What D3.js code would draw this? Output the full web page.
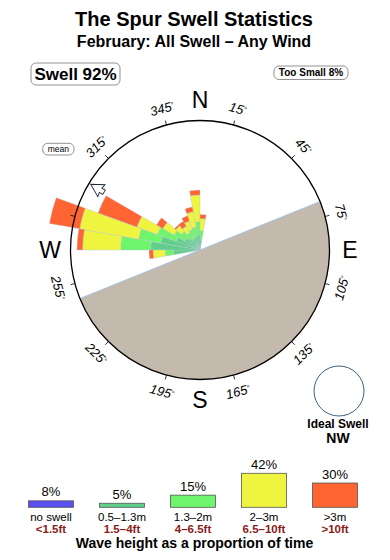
<!DOCTYPE html>
<html>
<head>
<meta charset="utf-8">
<script src="https://cdn.jsdelivr.net/npm/d3@7"></script>
<style>
  body { margin: 0; background: #fff; }
  svg { display: block; font-family: "Liberation Sans", Arial, Helvetica, sans-serif; }
</style>
</head>
<body>
<svg id="chart"></svg>
<script>
// Canvas and rose geometry
const width = 390, height = 560;
const cx = 200, cy = 250, R = 129.5;

// Direction bins (centre bearing of each 10 degree sector)
const directions = [265, 275, 285, 295, 305, 315, 325, 335, 345, 355, 5];
// % of time in each bin, by wave height band
const band1 = [3.3, 6.1, 4.9, 3.1, 2.2, 1.9, 1.5, 1.6, 1.7, 1.9, 1.2]; // 0.5-1.3m
const band2 = [1.0, 3.7, 2.8, 2.5, 1.5, 1.1, 1.0, 1.1, 1.2, 1.6, 1.2]; // 1.3-2m
const band3 = [1.5, 4.7, 7.4, 2.7, 1.6, 0.9, 0.9, 1.1, 1.9, 3.3, 1.5]; // 2-3m
const band4 = [0.5, 0.7, 3.8, 5.1, 0.9, 0.2, 0.7, 0.7, 0.6, 0.6, 0.5]; // >3m

// Land sector (bearings), mean direction, compass tick labels
const landStart = 68, landEnd = 248;
const meanDir = 301;
const tickBearings = [15, 45, 75, 105, 135, 165, 195, 225, 255, 285, 315, 345];
const compass = [["N", 0], ["E", 90], ["S", 180], ["W", 270]];

// Legend
const legendLabels = ["no swell", "0.5\u20131.3m", "1.3\u20132m", "2\u20133m", ">3m"];
const legendFeet = ["<1.5ft", "1.5\u20134ft", "4\u20136.5ft", "6.5\u201310ft", ">10ft"];
const legendPct = [8, 5, 15, 42, 30];
const bandColors = ["#5b4ff2", "#5fcf8a", "#6ff56c", "#eff53f", "#ff6533"];

const rad = (d) => (d * Math.PI) / 180;
const polar = (b, r) => [cx + r * Math.sin(rad(b)), cy - r * Math.cos(rad(b))];

const svg = d3.select("#chart").attr("width", width).attr("height", height);

// Titles
svg.append("text").attr("x", 194).attr("y", 26).attr("text-anchor", "middle")
  .style("font-size", "20px").style("font-weight", "bold").text("The Spur Swell Statistics");
svg.append("text").attr("x", 194).attr("y", 47).attr("text-anchor", "middle")
  .style("font-size", "16px").style("font-weight", "bold").text("February: All Swell \u2013 Any Wind");

// Boxed labels
function box(x, y, w, h, label, size, weight) {
  svg.append("rect").attr("x", x).attr("y", y).attr("width", w).attr("height", h)
    .attr("rx", 5).attr("fill", "#fff").attr("stroke", "#777").attr("stroke-width", 0.8);
  svg.append("text").attr("x", x + w / 2).attr("y", y + h / 2 + size * 0.36)
    .attr("text-anchor", "middle").style("font-size", size + "px").style("font-weight", weight)
    .text(label);
}
box(31, 63, 89, 22, "Swell 92%", 17, "bold");
box(274, 66, 74, 13.5, "Too Small 8%", 10, "bold");
box(42.7, 143.3, 31.3, 11.7, "mean", 8.5, "normal");

// Layers: land, degree labels, rose, frame
const landLayer = svg.append("g").attr("transform", `translate(${cx},${cy})`);
const labelLayer = svg.append("g");
const roseLayer = svg.append("g").attr("transform", `translate(${cx},${cy})`);
const frameLayer = svg.append("g").attr("transform", `translate(${cx},${cy})`);

// Radial scale
const rScale = d3.scaleLinear().domain([0, 16]).range([0, R]);

// Land half
landLayer.append("path")
  .attr("d", d3.arc()({ innerRadius: 0, outerRadius: R, startAngle: rad(landStart), endAngle: rad(landEnd) }))
  .attr("fill", "#c4b9ad");
const p1 = polar(landStart, R), p2 = polar(landEnd, R);
landLayer.append("line")
  .attr("x1", p1[0] - cx).attr("y1", p1[1] - cy).attr("x2", p2[0] - cx).attr("y2", p2[1] - cy)
  .attr("stroke", "#a6c6e6").attr("stroke-width", 1);

// Degree labels
tickBearings.forEach((b) => {
  const [x, y] = polar(b, 146.5);
  const rot = b < 90 || b > 270 ? (b > 180 ? b - 360 : b) : b - 180;
  const t = labelLayer.append("text")
    .attr("transform", `translate(${x},${y}) rotate(${rot})`)
    .attr("text-anchor", "middle").attr("dy", "0.36em")
    .style("font-size", "13px").style("font-style", "italic");
  t.append("tspan").text(b);
  t.append("tspan").attr("dy", "-0.45em").style("font-size", "7px").text("\u00b0");
});

// Stacked rose sectors
const table = directions.map((d, i) => ({ dir: d, b1: band1[i], b2: band2[i], b3: band3[i], b4: band4[i] }));
const keys = ["b1", "b2", "b3", "b4"];
const series = d3.stack().keys(keys)(table);
const arc = d3.arc()
  .innerRadius((d) => rScale(d[0]))
  .outerRadius((d) => rScale(d[1]))
  .startAngle((d) => rad(d.data.dir - 5))
  .endAngle((d) => rad(d.data.dir + 5));

roseLayer.selectAll("g.band")
  .data(series)
  .enter()
  .append("g")
  .attr("class", "band")
  .attr("fill", (s, i) => bandColors[i + 1])
  .selectAll("path")
  .data((s) => s)
  .enter()
  .append("path")
  .attr("d", arc)
  .attr("stroke", "#b4c2d0")
  .attr("stroke-width", 0.4);

// Outer circle and ticks
frameLayer.append("circle").attr("r", R).attr("fill", "none").attr("stroke", "#000").attr("stroke-width", 1.3);
tickBearings.forEach((b) => {
  const a = polar(b, R), c = polar(b, R + 4.5);
  frameLayer.append("line")
    .attr("x1", a[0] - cx).attr("y1", a[1] - cy).attr("x2", c[0] - cx).attr("y2", c[1] - cy)
    .attr("stroke", "#000").attr("stroke-width", 0.8);
});

// Mean direction arrow (points outward along meanDir)
const arrowPts = [[0, 127.5], [-7, 115], [-2.5, 116], [-2.5, 112], [2.5, 112], [2.5, 116], [7, 115]];
frameLayer.append("polygon")
  .attr("points", arrowPts.map((p) => [p[0], -p[1]].join(",")).join(" "))
  .attr("transform", `rotate(${meanDir})`)
  .attr("fill", "#fff").attr("stroke", "#1a2a3a").attr("stroke-width", 0.9);

// Compass letters
compass.forEach(([l, b]) => {
  const [x, y] = polar(b, 150);
  svg.append("text").attr("x", x).attr("y", y + 8.3).attr("text-anchor", "middle")
    .style("font-size", "23px").text(l);
});

// Ideal swell
svg.append("circle").attr("cx", 339).attr("cy", 391).attr("r", 25)
  .attr("fill", "#fff").attr("stroke", "#3d5f80").attr("stroke-width", 1);
svg.append("text").attr("x", 338).attr("y", 428).attr("text-anchor", "middle")
  .style("font-size", "12px").style("font-weight", "bold").text("Ideal Swell");
svg.append("text").attr("x", 338).attr("y", 443).attr("text-anchor", "middle")
  .style("font-size", "14px").style("font-weight", "bold").text("NW");

// Legend
const lx = d3.scalePoint().domain(legendLabels).range([51, 335]);
const lh = d3.scaleLinear().domain([0, 42]).range([0, 34]);
const baseY = 507.3, barW = 45;
const leg = svg.selectAll("g.leg")
  .data(legendLabels)
  .enter()
  .append("g")
  .attr("class", "leg")
  .attr("transform", (d) => `translate(${lx(d)},0)`);
leg.append("rect")
  .attr("x", -barW / 2)
  .attr("y", (d, i) => baseY - lh(legendPct[i]))
  .attr("width", barW)
  .attr("height", (d, i) => lh(legendPct[i]))
  .attr("fill", (d, i) => bandColors[i])
  .attr("stroke", "#555").attr("stroke-width", 0.8);
leg.append("text")
  .attr("y", (d, i) => baseY - lh(legendPct[i]) - 4.5)
  .attr("text-anchor", "middle").style("font-size", "13px")
  .text((d, i) => legendPct[i] + "%");
leg.append("text")
  .attr("y", 520.5).attr("text-anchor", "middle").style("font-size", "11.5px")
  .text((d) => d);
leg.append("text")
  .attr("y", 533).attr("text-anchor", "middle").style("font-size", "11.5px")
  .style("font-weight", "bold").attr("fill", "#8b1a1a")
  .text((d, i) => legendFeet[i]);
svg.append("text").attr("x", 194.5).attr("y", 547.5).attr("text-anchor", "middle")
  .style("font-size", "14px").style("font-weight", "bold").text("Wave height as a proportion of time");
</script>
</body>
</html>
